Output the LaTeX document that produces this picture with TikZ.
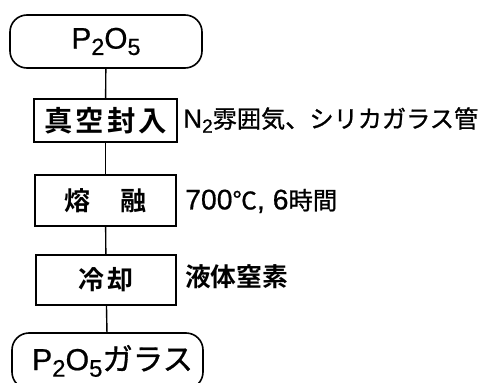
\documentclass[tikz,border=0pt]{standalone}
\usepackage{graphicx}
\usepackage{fontspec}
\setmainfont{Liberation Sans}
\newfontfamily\lat[FakeBold=0.6]{Liberation Sans}
\newfontfamily\jp[FakeBold=1]{Noto Sans CJK JP}
\newfontfamily\jpb{Noto Sans CJK JP Bold}
\newcommand{\fs}[1]{\fontsize{#1}{#1}\selectfont}
\newcommand{\lsub}[3]{\raisebox{-#2pt}{\fs{#1}#3}}
\newcommand{\fitw}[2]{\resizebox{#1pt}{!}{#2}}
\begin{document}
\begin{tikzpicture}[x=1pt,y=-1pt,
  term/.style={draw, line width=1.6pt, rounded corners=17pt, inner sep=0pt},
  stepbox/.style={draw, line width=1.6pt, inner sep=0pt},
  conn/.style={line width=1.4pt},
  lbl/.style={anchor=west, inner sep=0pt}]
\useasboundingbox (0,0) rectangle (483,383);
\clip (0,0) rectangle (483,383);
\node[term, minimum width=192pt, minimum height=53pt] (top) at (106,41.5)
  {\fitw{69}{\lat\fs{28}P\lsub{22}{6}{2}O\lsub{22}{6}{5}}};
\node[stepbox, minimum width=143pt, minimum height=43pt] (b1) at (105.5,120.5)
  {\fitw{123}{\fs{27}\jpb 真\hspace{3pt}空\hspace{3pt}封\hspace{3pt}入}};
\node[stepbox, minimum width=141pt, minimum height=51pt] (b2) at (105.5,200.5)
  {\fitw{82}{\fs{26}\jpb 熔\hspace{30pt}融}};
\node[stepbox, minimum width=140pt, minimum height=50pt] (b3) at (106,280)
  {\fitw{55}{\fs{26}\jpb 冷\hspace{3pt}却}};
\node[term, minimum width=191pt, minimum height=56pt] (bot) at (107.5,361)
  {\hspace*{10pt}\fitw{161}{\lat\fs{28}P\lsub{22}{6}{2}O\lsub{22}{6}{5}{\jp ガラス}}};
\draw[conn] (top) -- (b1);
\draw[conn] (b1) -- (b2);
\draw[conn] (b2) -- (b3);
\draw[conn] (b3) -- (bot);
\node[lbl] (l1) at (183,120)
  {\fitw{295}{\lat\fs{26}N\lsub{19}{5}{2}{\fs{24}\jp 雰囲気、シリカガラス管}}};
\node[lbl] (l2) at (185,201)
  {\fitw{152}{\lat\fs{28}700{\fs{24}\jp ℃}, 6{\fs{24}\jp 時間}}};
\node[lbl] (l3) at (185,277)
  {\fitw{103}{\fs{24}\jpb 液体窒素}};
\end{tikzpicture}
\end{document}
